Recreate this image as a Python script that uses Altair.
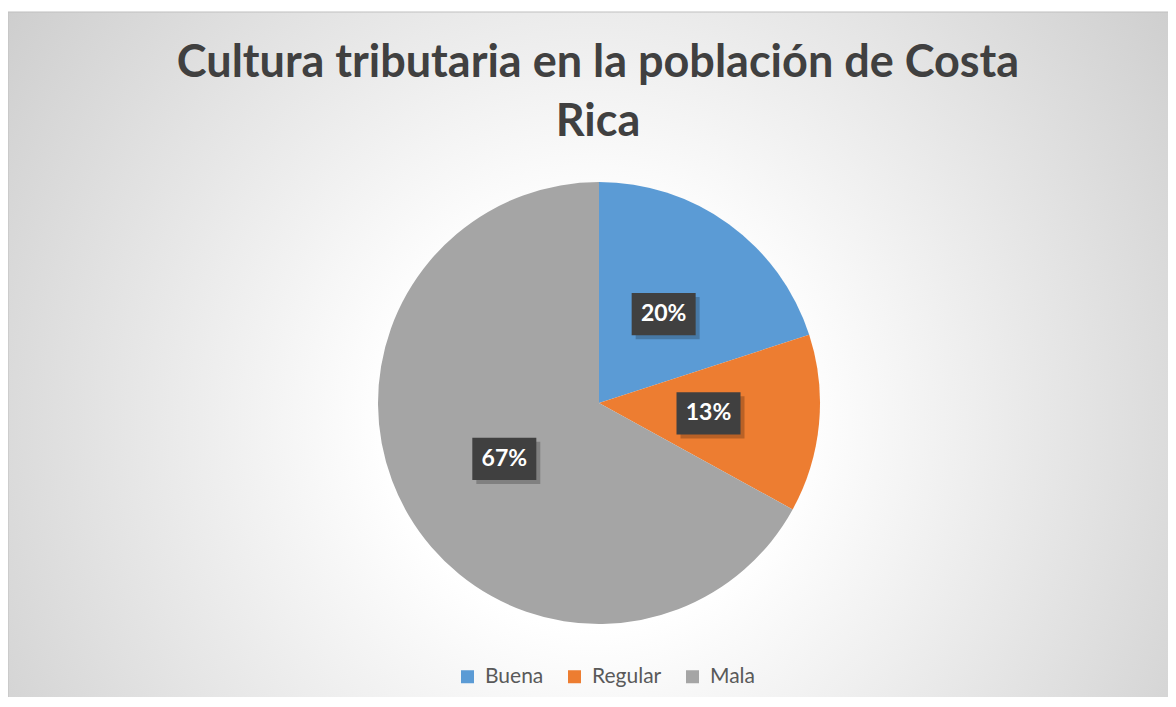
import altair as alt
import pandas as pd

categories = ["Buena", "Regular", "Mala"]
values = [20, 13, 67]
labels = ["20%", "13%", "67%"]
order = [0, 1, 2]
colors = ["#5B9BD5", "#ED7D31", "#A5A5A5"]
title_lines = ["Cultura tributaria en la población de Costa", "Rica"]

df = pd.DataFrame({"cat": categories, "val": values, "label": labels, "ord": order})

W, H = 1160, 685
CX, CY, R = 591, 391, 221
LR = 110
FONT = "Lato"

bg = alt.Chart(pd.DataFrame({"a": [0]})).mark_rect(
    fill=alt.Gradient(
        gradient="radial",
        stops=[
            alt.GradientStop(color="#ffffff", offset=0),
            alt.GradientStop(color="#ffffff", offset=0.25),
            alt.GradientStop(color="#c4c4c4", offset=1),
        ],
        x1=0.5, y1=0.55, r1=0, x2=0.5, y2=0.55, r2=0.7,
    ),
    stroke="#bfbfbf",
    strokeWidth=1,
).encode(x=alt.value(0), x2=alt.value(W + 10), y=alt.value(0), y2=alt.value(H + 20))

base = alt.Chart(df)

pie = base.mark_arc(radius=R).encode(
    theta=alt.Theta("val:Q", stack=True),
    color=alt.Color(
        "cat:N",
        scale=alt.Scale(domain=categories, range=colors),
        sort=categories,
        legend=alt.Legend(
            orient="none", legendX=449, legendY=654, direction="horizontal",
            title=None, symbolType="square", symbolSize=169, symbolStrokeWidth=0,
            labelFontSize=21, labelFont=FONT, labelColor="#595959",
            columnPadding=20, labelOffset=7, zindex=1,
        ),
    ),
    order=alt.Order("ord:Q"),
    x=alt.value(CX),
    y=alt.value(CY),
)

lab = base.transform_joinaggregate(
    total="sum(val)"
).transform_window(
    cum="sum(val)", sort=[alt.SortField("ord", order="ascending")], frame=[None, 0]
).transform_calculate(
    mid="(datum.cum - datum.val/2)/datum.total*2*PI"
).transform_calculate(
    px=f"{CX} + {LR}*sin(datum.mid)",
    py=f"{CY} - {LR}*cos(datum.mid)",
)

xs = alt.X("px:Q", scale=alt.Scale(domain=[0, W], nice=False, zero=False), axis=None)
ys = alt.Y("py:Q", scale=alt.Scale(domain=[H, 0], nice=False, zero=False), axis=None)

box_path = "M-1,-0.66L1,-0.66L1,0.66L-1,0.66Z"
shadow = lab.mark_point(shape=box_path, size=64 * 64, filled=True, color="#000000",
                        opacity=0.22, xOffset=4, yOffset=4).encode(x=xs, y=ys)
box = lab.mark_point(shape=box_path, size=64 * 64, filled=True, color="#404040",
                     opacity=1).encode(x=xs, y=ys)
txt = lab.mark_text(font=FONT, fontSize=23, fontWeight="bold", color="white",
                    align="center", baseline="middle").encode(x=xs, y=ys, text="label:N")

chart = alt.layer(bg, pie, shadow, box, txt).properties(
    width=W,
    height=H,
    padding={"left": 0, "top": 4, "right": 0, "bottom": 0},
    autosize=alt.AutoSizeParams(type="none"),
    title=alt.TitleParams(
        text=title_lines, font=FONT, fontSize=45, fontWeight="bold", color="#404040",
        anchor="middle", baseline="alphabetic", lineHeight=59, offset=0, dy=169, dx=10,
        zindex=1, frame="group",
    ),
).configure_view(stroke=None).resolve_scale(x="shared", y="shared")

chart.save("out.html", embed_options={"renderer": "svg", "actions": False})
